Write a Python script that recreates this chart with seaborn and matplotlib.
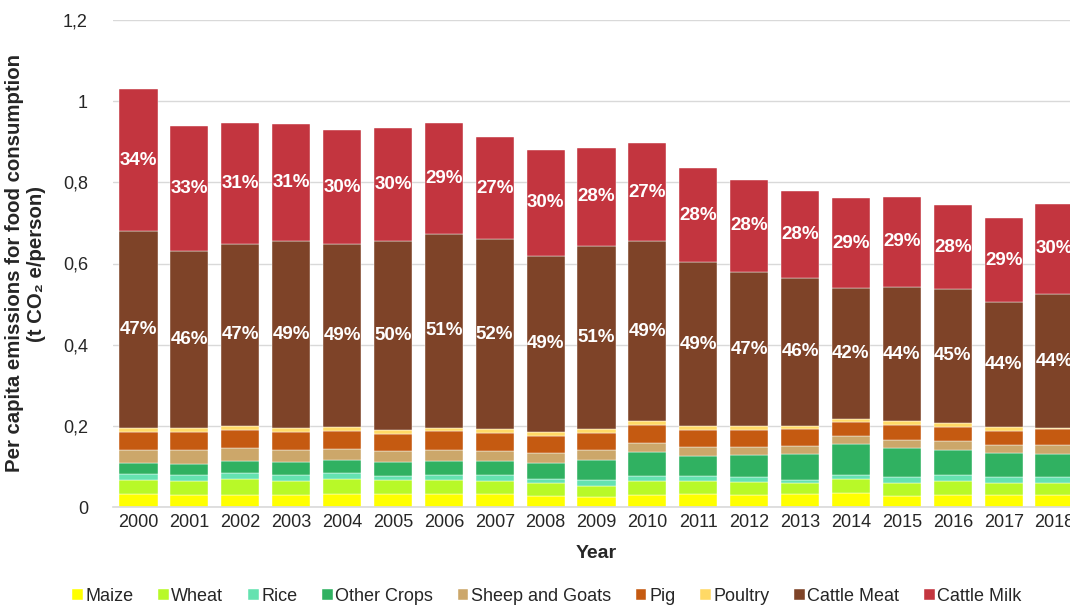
import numpy as np
import pandas as pd
import matplotlib
matplotlib.use("Agg")
import matplotlib.pyplot as plt
import seaborn as sns

# ---- data (t CO2e/person) ----
years = [str(y) for y in range(2000, 2019)]

maize       = [0.033, 0.030, 0.030, 0.030, 0.033, 0.031, 0.031, 0.032, 0.028, 0.025,
               0.030, 0.033, 0.030, 0.031, 0.034, 0.028, 0.029, 0.029, 0.029]
wheat       = [0.034, 0.034, 0.039, 0.035, 0.035, 0.035, 0.035, 0.032, 0.030, 0.027,
               0.035, 0.030, 0.032, 0.027, 0.034, 0.032, 0.034, 0.029, 0.029]
rice        = [0.014, 0.014, 0.015, 0.015, 0.015, 0.010, 0.014, 0.016, 0.012, 0.014,
               0.011, 0.013, 0.011, 0.008, 0.010, 0.015, 0.017, 0.016, 0.015]
other_crops = [0.027, 0.028, 0.029, 0.030, 0.032, 0.034, 0.033, 0.033, 0.038, 0.050,
               0.059, 0.050, 0.054, 0.065, 0.078, 0.070, 0.061, 0.059, 0.058]
sheep_goats = [0.033, 0.034, 0.032, 0.030, 0.027, 0.027, 0.027, 0.025, 0.025, 0.024,
               0.022, 0.021, 0.022, 0.019, 0.018, 0.019, 0.021, 0.019, 0.021]
pig         = [0.044, 0.045, 0.045, 0.045, 0.045, 0.044, 0.047, 0.045, 0.043, 0.043,
               0.046, 0.043, 0.041, 0.041, 0.035, 0.038, 0.036, 0.035, 0.039]
poultry     = [0.010, 0.010, 0.010, 0.010, 0.009, 0.009, 0.008, 0.008, 0.009, 0.009,
               0.008, 0.009, 0.009, 0.009, 0.009, 0.009, 0.010, 0.009, 0.003]
cattle_meat = [0.485, 0.436, 0.448, 0.460, 0.452, 0.465, 0.478, 0.469, 0.434, 0.451,
               0.444, 0.405, 0.380, 0.364, 0.322, 0.331, 0.329, 0.309, 0.331]
cattle_milk = [0.350, 0.308, 0.298, 0.289, 0.281, 0.279, 0.273, 0.252, 0.261, 0.242,
               0.242, 0.231, 0.227, 0.215, 0.221, 0.222, 0.207, 0.207, 0.222]

meat_pct = [47, 46, 47, 49, 49, 50, 51, 52, 49, 51, 49, 49, 47, 46, 42, 44, 45, 44, 44]
milk_pct = [34, 33, 31, 31, 30, 30, 29, 27, 30, 28, 27, 28, 28, 28, 29, 29, 28, 29, 30]

series = ["Maize", "Wheat", "Rice", "Other Crops", "Sheep and Goats", "Pig",
          "Poultry", "Cattle Meat", "Cattle Milk"]
values = [maize, wheat, rice, other_crops, sheep_goats, pig, poultry, cattle_meat, cattle_milk]
colors = ["#FFFF00", "#B8F928", "#64E2B0", "#30B161", "#CCA76A", "#C55A11",
          "#FFD966", "#7E4328", "#C3353F"]

df = pd.DataFrame({"Year": years})
for name, v in zip(series, values):
    df[name] = v

# ---- plot ----
sns.set_theme(style="white")
plt.rcParams["font.family"] = ["Liberation Sans", "DejaVu Sans"]

fig = plt.figure(figsize=(10.7, 6.14), dpi=100)
ax = fig.add_axes([113 / 1070, 107 / 614, 967 / 1070, 487 / 614])

bottom = np.zeros(len(years))
for name, col in zip(series, colors):
    sns.barplot(data=df, x="Year", y=name, color=col, bottom=bottom, width=0.75,
                errorbar=None, saturation=1, edgecolor="white", linewidth=0.3,
                label=name, ax=ax)
    if name == "Cattle Meat":
        ax.bar_label(ax.containers[-1], labels=[f"{p}%" for p in meat_pct],
                     label_type="center", color="white", fontweight="bold", fontsize=13.5)
    if name == "Cattle Milk":
        ax.bar_label(ax.containers[-1], labels=[f"{p}%" for p in milk_pct],
                     label_type="center", color="white", fontweight="bold", fontsize=13.5)
    bottom = bottom + df[name].values

ax.set_xlim(-0.5, len(years) - 0.5)
ax.set_ylim(0, 1.2)
yt = [0, 0.2, 0.4, 0.6, 0.8, 1.0, 1.2]
ax.set_yticks(yt)
ax.set_yticklabels(["0", "0,2", "0,4", "0,6", "0,8", "1", "1,2"], fontsize=13)
ax.grid(axis="y", color="#D9D9D9", linewidth=1)
ax.set_axisbelow(True)
for s in ["left", "right", "top"]:
    ax.spines[s].set_visible(False)
ax.spines["bottom"].set_color("#D9D9D9")
ax.spines["bottom"].set_linewidth(1.2)

ax.tick_params(axis="y", length=0, pad=18)
ax.tick_params(axis="x", which="major", length=0, pad=5, labelsize=13)
ax.set_xticks(np.arange(len(years) - 1) + 0.5, minor=True)
ax.tick_params(axis="x", which="minor", length=5, color="#D9D9D9", width=1.2)

ax.set_xlabel("Year", fontsize=14, fontweight="bold", labelpad=10)
ax.set_ylabel("Per capita emissions for food consumption\n(t CO₂ e/person)",
              fontsize=14.7, fontweight="bold", labelpad=12)

handles, labels = ax.get_legend_handles_labels()
if ax.legend_:
    ax.legend_.remove()
fig.legend(handles, labels, loc="lower center", bbox_to_anchor=(0.511, -0.012), ncol=9,
           frameon=False, handlelength=0.6, handleheight=0.6,
           handletextpad=0.15, columnspacing=1.35,
           prop={"family": ["Liberation Sans", "DejaVu Sans"], "size": 13})

fig.savefig("out.png", dpi=100)
